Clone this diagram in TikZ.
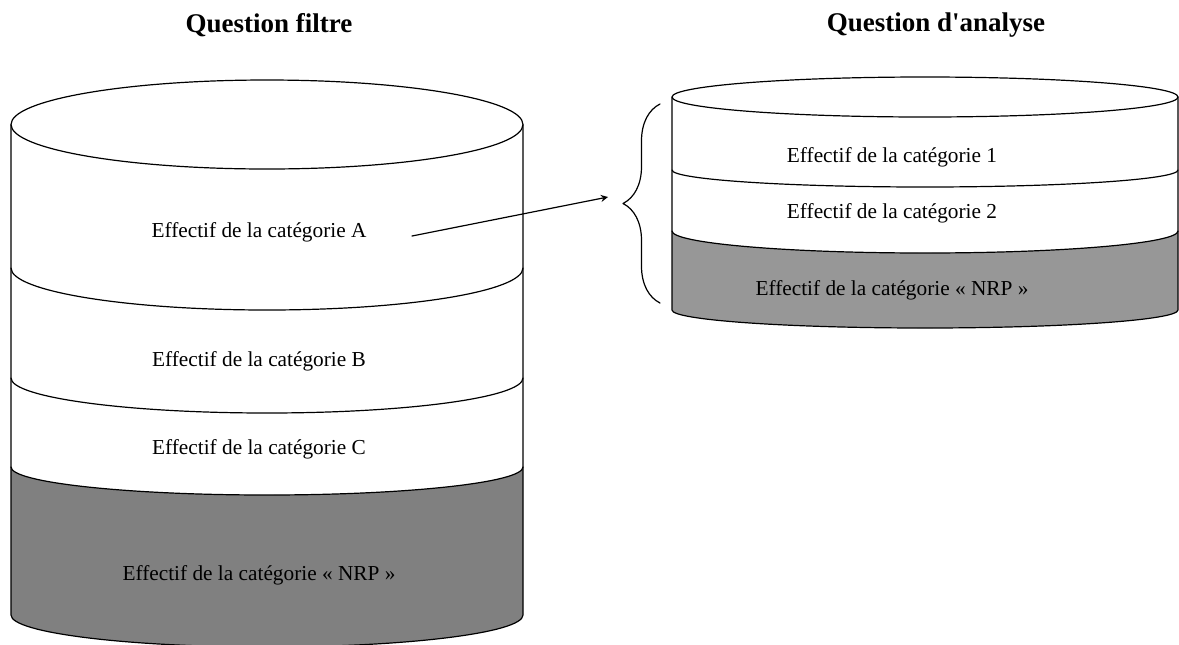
\documentclass[tikz,border=0pt]{standalone}
\usepackage{fontspec}
\setmainfont{Liberation Serif}
\usetikzlibrary{decorations.pathreplacing}

\definecolor{grisfonce}{HTML}{808080}
\definecolor{grisclair}{HTML}{979797}

\tikzset{
	texte/.style={font=\fontsize{10.65}{12}\selectfont, inner sep=0pt},
	titre/.style={font=\fontsize{13.5}{15}\selectfont\bfseries, inner sep=0pt},
	trait/.style={line width=0.6pt},
}

\begin{document}
\begin{tikzpicture}[>=stealth, line cap=round, line join=round, x=0.5pt, y=-0.5pt]
	\useasboundingbox (0,0) rectangle (1179,644);
	
	% Titres
	\node[titre] (titreG) at (269,25) {Question filtre};
	\node[titre] (titreD) at (936,25) {Question d\textquotesingle analyse};
	
	% Cylindre de gauche : bande NRP en gris
	\fill[grisfonce] (11,467) arc[start angle=180, end angle=0, x radius=256, y radius=28]
	-- (523,615) arc[start angle=0, end angle=180, x radius=256, y radius=32] -- cycle;
	
	% Cylindre de gauche : contour, couvercle et séparations
	\draw[trait] (11,125) -- (11,615) arc[start angle=180, end angle=0, x radius=256, y radius=32] -- (523,125);
	\draw[trait] (267,124.5) ellipse[x radius=256, y radius=44.5];
	\foreach \y/\r in {268/42, 378/35, 467/28}
		\draw[trait] (11,\y) arc[start angle=180, end angle=0, x radius=256, y radius=\r];
	
	\node[texte] (catA) at (259,232) {Effectif de la catégorie A};
	\node[texte] (catB) at (259,361) {Effectif de la catégorie B};
	\node[texte] (catC) at (259,449) {Effectif de la catégorie C};
	\node[texte] (nrpG) at (259,575) {Effectif de la catégorie « NRP »};
	
	% Cylindre de droite : bande NRP en gris
	\fill[grisclair] (672,231) arc[start angle=180, end angle=0, x radius=253, y radius=22]
	-- (1178,310) arc[start angle=0, end angle=180, x radius=253, y radius=18] -- cycle;
	
	% Cylindre de droite : contour, couvercle et séparations
	\draw[trait] (672,97) -- (672,310) arc[start angle=180, end angle=0, x radius=253, y radius=18] -- (1178,97);
	\draw[trait] (925,97) ellipse[x radius=253, y radius=20];
	\foreach \y/\r in {170/17, 231/22}
		\draw[trait] (672,\y) arc[start angle=180, end angle=0, x radius=253, y radius=\r];
	
	\node[texte] (cat1) at (892,157) {Effectif de la catégorie 1};
	\node[texte] (cat2) at (892,213) {Effectif de la catégorie 2};
	\node[texte] (nrpD) at (892,290) {Effectif de la catégorie « NRP »};
	
	% Accolade et flèche
	\draw[trait, decorate, decoration={brace, amplitude=18.5pt}] (660,303) -- (660,104);
	\coordinate (departA) at (412,236);
	\coordinate (pointe) at (608,197);
	\draw[trait, ->] (departA) -- (pointe);
	
\end{tikzpicture}
\end{document}
